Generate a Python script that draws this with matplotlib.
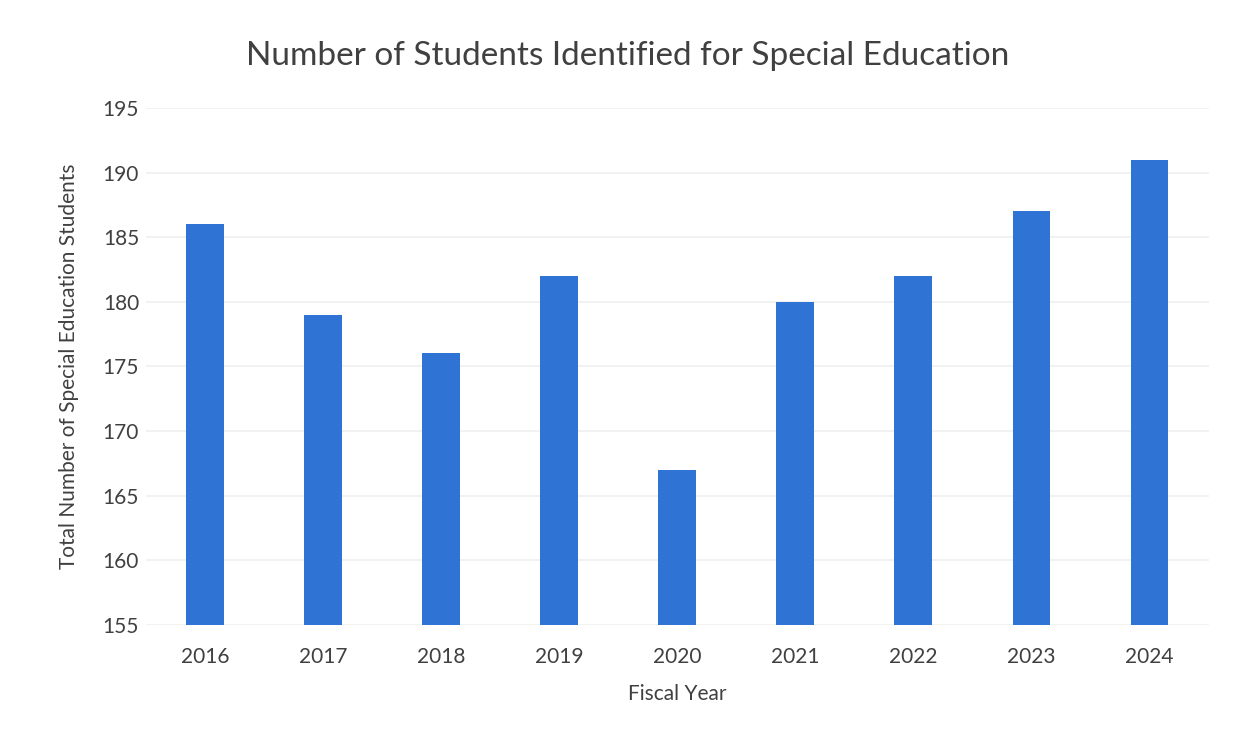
import matplotlib
matplotlib.use("Agg")
import matplotlib.pyplot as plt

years = ["2016", "2017", "2018", "2019", "2020", "2021", "2022", "2023", "2024"]
students = [186, 179, 176, 182, 167, 180, 182, 187, 191]
yticks = [155, 160, 165, 170, 175, 180, 185, 190, 195]

plt.rcParams['font.family'] = ['Lato', 'DejaVu Sans']

fig = plt.figure(figsize=(12.37, 7.35), dpi=100)
ax = fig.add_axes([0.118, 0.150, 0.859, 0.703])

x = range(len(years))
ax.bar(x, students, width=0.32, color="#2f74d4", zorder=3)
ax.set_xlim(-0.5, len(years) - 0.5)
ax.set_ylim(155, 195)
ax.set_yticks(yticks)
ax.set_xticks(list(x))
ax.set_xticklabels(years)
ax.grid(axis='y', color="#f0f0f0", linewidth=1.2, zorder=0)
for s in ax.spines.values():
    s.set_visible(False)
ax.tick_params(length=0, labelsize=15, colors="#404040")
ax.tick_params(axis='x', pad=16)
ax.tick_params(axis='y', pad=5)

ax.set_xlabel("Fiscal Year", fontsize=15, color="#404040", labelpad=12)
ax.set_ylabel("Total Number of Special Education Students", fontsize=15, color="#404040", labelpad=17)
fig.text(0.507, 0.924, "Number of Students Identified for Special Education",
         ha='center', va='center', fontsize=24, color="#404040")

fig.savefig("out.png", dpi=100)
